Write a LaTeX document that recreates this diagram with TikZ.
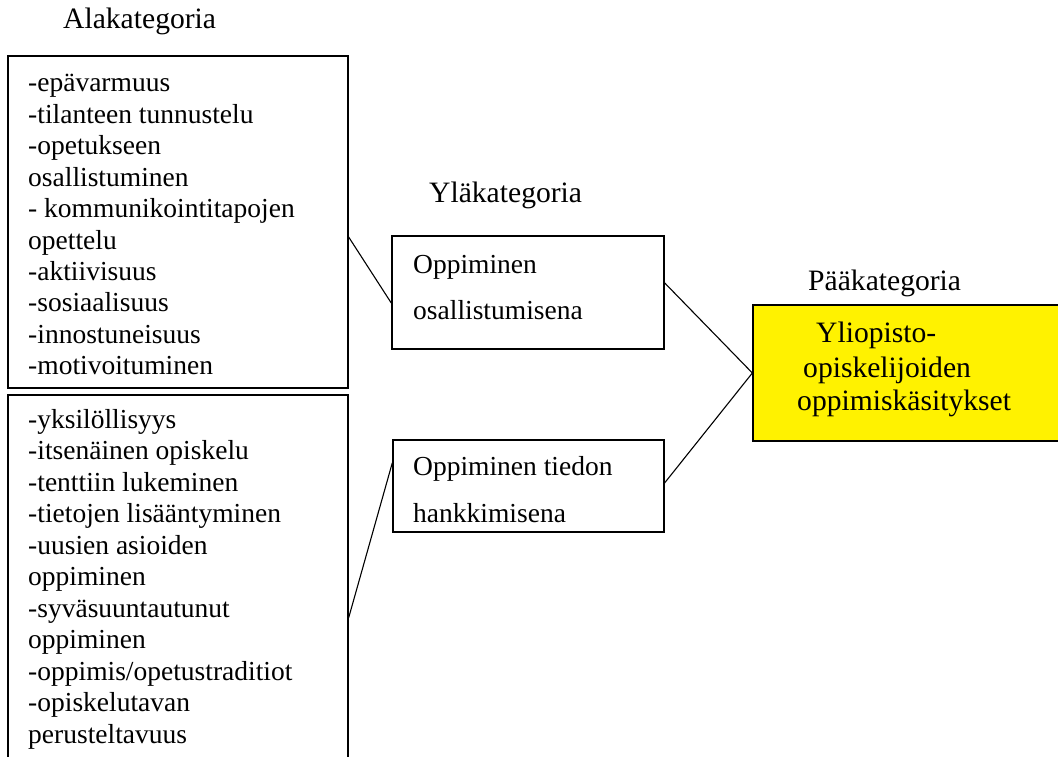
\documentclass[tikz,border=0pt]{standalone}
\usepackage{fontspec}
\setmainfont{Liberation Serif}
\usetikzlibrary{calc}
\tikzset{
  box/.style={draw=black, line width=1.3pt, rectangle, inner sep=0pt},
  txt/.style={anchor=base west, inner sep=0pt, font=\fontsize{27.5}{31}\selectfont},
  lbl/.style={anchor=base west, inner sep=0pt, font=\fontsize{29.6}{33}\selectfont},
  conn/.style={draw=black, line width=1.1pt}
}
\begin{document}
\begin{tikzpicture}[x=1pt,y=-1pt]
\useasboundingbox (0,0) rectangle (1058,757);
\clip (0,0) rectangle (1058,757);
% boxes
\node[box, minimum width=340pt, minimum height=332pt] (A1) at (178,222) {};
\node[box, minimum width=340pt, minimum height=405pt] (A2) at (178,597.5) {};
\node[box, minimum width=272pt, minimum height=113pt] (Y1) at (528,292.5) {};
\node[box, minimum width=271pt, minimum height=92pt] (Y2) at (528.5,486) {};
\node[box, fill=yellow, minimum width=337pt, minimum height=136pt] (P) at (921.5,373) {};
% headings
\node[lbl] (hA) at (63,29) {Alakategoria};
\node[lbl] (hY) at (429,203) {Yläkategoria};
\node[lbl] (hP) at (808,290) {Pääkategoria};
% list texts
\foreach \t [count=\i] in {-epävarmuus,-tilanteen tunnustelu,-opetukseen,osallistuminen,- kommunikointitapojen,opettelu,-aktiivisuus,-sosiaalisuus,-innostuneisuus,-motivoituminen}
  \node[txt] (a1-\i) at (28,{92+31.4*(\i-1)}) {\t};
\foreach \t [count=\i] in {-yksilöllisyys,-itsenäinen opiskelu,-tenttiin lukeminen,-tietojen lisääntyminen,-uusien asioiden,oppiminen,-syväsuuntautunut,oppiminen,-oppimis/opetustraditiot,-opiskelutavan,perusteltavuus}
  \node[txt] (a2-\i) at (28,{428+31.5*(\i-1)}) {\t};
% middle texts
\node[txt] (y1a) at (413,273) {Oppiminen};
\node[txt] (y1b) at (413,319) {osallistumisena};
\node[txt] (y2a) at (413,475) {Oppiminen tiedon};
\node[txt] (y2b) at (413,522) {hankkimisena};
% main texts
\node[lbl] (p1) at (816,342) {Yliopisto-};
\node[lbl] (p2) at (803,377) {opiskelijoiden};
\node[lbl] (p3) at (797,410) {oppimiskäsitykset};
% connectors
\draw[conn] ($(A1.north east)!0.545!(A1.south east)$) -- ($(Y1.north west)!0.593!(Y1.south west)$);
\draw[conn] ($(A2.north east)!0.55!(A2.south east)$) -- ($(Y2.north west)!0.25!(Y2.south west)$);
\draw[conn] ($(Y1.north east)!0.416!(Y1.south east)$) -- (P.west);
\draw[conn] ($(Y2.north east)!0.467!(Y2.south east)$) -- (P.west);
\end{tikzpicture}
\end{document}
